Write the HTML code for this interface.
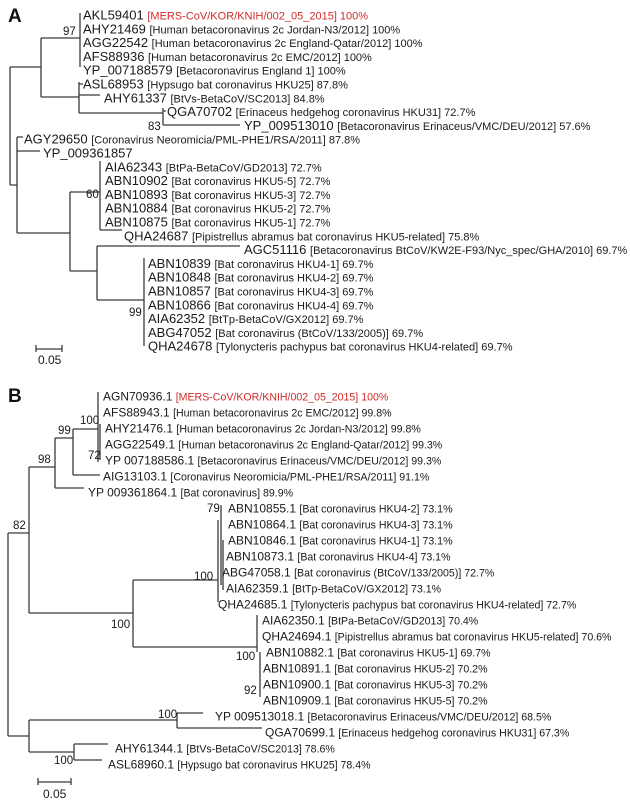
<!DOCTYPE html>
<html><head><meta charset="utf-8"><style>
html,body{margin:0;padding:0;background:#fff;}
svg{display:block;font-family:"Liberation Sans",Arial,sans-serif;}
.acc{font-size:13px;fill:#1a1a1a}
.accB{font-size:12px;fill:#1a1a1a}
.descA{font-size:11px;fill:#1a1a1a}
.descB{font-size:10.6px;fill:#1a1a1a}
.red{fill:#d22a2a}
.bs{font-size:11.5px;fill:#1a1a1a}
.br{stroke:#3a3a3a;stroke-width:1.3;fill:none}
</style></head><body>
<svg id="fig" width="630" height="802" viewBox="0 0 630 802">
<text x="8" y="22" font-size="19" font-weight="bold" fill="#111">A</text>
<text x="8" y="402" font-size="19" font-weight="bold" fill="#111">B</text>
<g>
<path class="br" d="M10 67V185 M10 67H41 M41 38V97 M41 38H80 M80 13V67 M41 97H79 M79 82V113 M79 84H83 M79 95H100 M79 113H163 M163 108V125 M163 111H166 M163 125H240
M10 185H17 M17 137V233 M17 137H23 M17 151H40 M17 233H70 M70 192V271 M70 192H100 M100 161V230 M100 230H122 M70 271H97 M97 246V300 M97 246H240 M97 300H144 M144 258V346"/>
</g>
<text class="bs" x="63" y="35">97</text>
<text class="bs" x="148" y="130">83</text>
<text class="bs" x="86" y="198">60</text>
<text class="bs" x="129" y="316">99</text>
<g>
<path class="br" d="M36 349H62 M36 345V352 M62 345V352"/>
<text x="38" y="364" font-size="12" fill="#1a1a1a">0.05</text>
</g>
<g>
<path class="br" d="M8 533V736 M8 533H29 M29 467V613 M29 467H55 M55 438V488 M55 438H73 M73 429V475 M73 429H98 M98 392V462 M100 424V460 M73 475H100 M55 488H84
M29 613H133 M133 580V647 M133 580H218 M218 520V602 M221 505V585 M223 540V590 M133 647H257 M257 615V652 M260 652V697
M8 736H29 M29 720V752 M29 720H177 M177 713V728 M177 713H203 M177 728H262 M29 752H74 M74 744V760 M74 744H108 M74 760H102"/>
</g>
<text class="bs" x="80" y="424">100</text>
<text class="bs" x="58" y="434">99</text>
<text class="bs" x="88" y="459">72</text>
<text class="bs" x="38" y="463">98</text>
<text class="bs" x="13" y="529">82</text>
<text class="bs" x="207" y="512">79</text>
<text class="bs" x="194" y="580">100</text>
<text class="bs" x="111" y="628">100</text>
<text class="bs" x="236" y="660">100</text>
<text class="bs" x="244" y="694">92</text>
<text class="bs" x="158" y="718">100</text>
<text class="bs" x="54" y="764">100</text>
<g>
<path class="br" d="M38 782H71 M38 778V785 M71 778V785"/>
<text x="43" y="798" font-size="12" fill="#1a1a1a">0.05</text>
</g>
<g id="leavesA"></g>
<g id="leavesB"></g>
</svg>
<script>
const accA=["AKL59401","AHY21469","AGG22542","AFS88936","YP_007188579","ASL68953","AHY61337","QGA70702","YP_009513010","AGY29650","YP_009361857","AIA62343","ABN10902","ABN10893","ABN10884","ABN10875","QHA24687","AGC51116","ABN10839","ABN10848","ABN10857","ABN10866","AIA62352","ABG47052","QHA24678"];
const descA=["[MERS-CoV/KOR/KNIH/002_05_2015] 100%","[Human betacoronavirus 2c Jordan-N3/2012] 100%","[Human betacoronavirus 2c England-Qatar/2012] 100%","[Human betacoronavirus 2c EMC/2012] 100%","[Betacoronavirus England 1] 100%","[Hypsugo bat coronavirus HKU25] 87.8%","[BtVs-BetaCoV/SC2013] 84.8%","[Erinaceus hedgehog coronavirus HKU31] 72.7%","[Betacoronavirus Erinaceus/VMC/DEU/2012] 57.6%","[Coronavirus Neoromicia/PML-PHE1/RSA/2011] 87.8%","","[BtPa-BetaCoV/GD2013] 72.7%","[Bat coronavirus HKU5-5] 72.7%","[Bat coronavirus HKU5-3] 72.7%","[Bat coronavirus HKU5-2] 72.7%","[Bat coronavirus HKU5-1] 72.7%","[Pipistrellus abramus bat coronavirus HKU5-related] 75.8%","[Betacoronavirus BtCoV/KW2E-F93/Nyc_spec/GHA/2010] 69.7%","[Bat coronavirus HKU4-1] 69.7%","[Bat coronavirus HKU4-2] 69.7%","[Bat coronavirus HKU4-3] 69.7%","[Bat coronavirus HKU4-4] 69.7%","[BtTp-BetaCoV/GX2012] 69.7%","[Bat coronavirus (BtCoV/133/2005)] 69.7%","[Tylonycteris pachypus bat coronavirus HKU4-related] 69.7%"];
const xA=[83,83,83,83,83,83,104,167,244,24,43,105,105,105,105,105,124,244,148,148,148,148,148,148,148];
const accB=["AGN70936.1","AFS88943.1","AHY21476.1","AGG22549.1","YP 007188586.1","AIG13103.1","YP 009361864.1","ABN10855.1","ABN10864.1","ABN10846.1","ABN10873.1","ABG47058.1","AIA62359.1","QHA24685.1","AIA62350.1","QHA24694.1","ABN10882.1","ABN10891.1","ABN10900.1","ABN10909.1","YP 009513018.1","QGA70699.1","AHY61344.1","ASL68960.1"];
const descB=["[MERS-CoV/KOR/KNIH/002_05_2015]  100%","[Human betacoronavirus 2c EMC/2012] 99.8%","[Human betacoronavirus 2c Jordan-N3/2012] 99.8%","[Human betacoronavirus 2c England-Qatar/2012] 99.3%","[Betacoronavirus Erinaceus/VMC/DEU/2012] 99.3%","[Coronavirus Neoromicia/PML-PHE1/RSA/2011] 91.1%","[Bat coronavirus] 89.9%","[Bat coronavirus HKU4-2] 73.1%","[Bat coronavirus HKU4-3] 73.1%","[Bat coronavirus HKU4-1] 73.1%","[Bat coronavirus HKU4-4] 73.1%","[Bat coronavirus (BtCoV/133/2005)] 72.7%","[BtTp-BetaCoV/GX2012] 73.1%","[Tylonycteris pachypus bat coronavirus HKU4-related] 72.7%","[BtPa-BetaCoV/GD2013] 70.4%","[Pipistrellus abramus bat coronavirus HKU5-related] 70.6%","[Bat coronavirus HKU5-1] 69.7%","[Bat coronavirus HKU5-2] 70.2%","[Bat coronavirus HKU5-3] 70.2%","[Bat coronavirus HKU5-5] 70.2%","[Betacoronavirus Erinaceus/VMC/DEU/2012] 68.5%","[Erinaceus hedgehog coronavirus HKU31] 67.3%","[BtVs-BetaCoV/SC2013] 78.6%","[Hypsugo bat coronavirus HKU25] 78.4%"];
const xB=[103,103,105,105,105,103,88,228,228,228,226,222,226,218,262,262,266,263,263,263,215,265,115,108];
const NS="http://www.w3.org/2000/svg";
function addLeaves(gid,accs,descs,xs,y0,step,cls,dcls){
  const g=document.getElementById(gid);
  accs.forEach((a,i)=>{
    const t=document.createElementNS(NS,"text");
    
    
    t.setAttribute("x",xs[i]);t.setAttribute("y",(y0+step*i+4.5).toFixed(1));
    const s1=document.createElementNS(NS,"tspan");s1.setAttribute("class",cls);s1.textContent=a+" ";t.appendChild(s1);
    if(descs[i]){const s2=document.createElementNS(NS,"tspan");s2.setAttribute("class",dcls+(i===0?" red":""));s2.textContent=descs[i];t.appendChild(s2);}
    g.appendChild(t);
  });
}
addLeaves("leavesA",accA,descA,xA,15,13.8,"acc","descA");
addLeaves("leavesB",accB,descB,xB,396,16,"accB","descB");
</script>
</body></html>
